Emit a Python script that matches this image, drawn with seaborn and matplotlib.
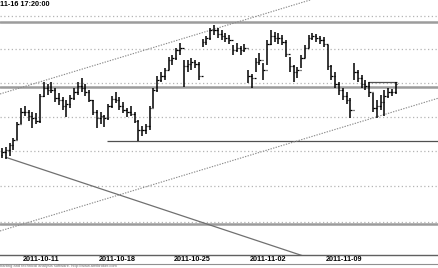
import matplotlib
matplotlib.use("Agg")
import matplotlib.pyplot as plt
import matplotlib.transforms as mtransforms
from matplotlib.lines import Line2D
import numpy as np
import pandas as pd
import seaborn as sns

# ---- data (6-hour bars, index 0..104) ----
high = [1.3612, 1.3618, 1.3642, 1.3672, 1.3768, 1.3852, 1.3864, 1.3840, 1.3828, 1.3822,
        1.3936, 1.4008, 1.3996, 1.4008, 1.3972, 1.3942, 1.3918, 1.3900, 1.3930, 1.3972,
        1.4008, 1.4032, 1.3996, 1.3960, 1.3900, 1.3840, 1.3828, 1.3810, 1.3876, 1.3924,
        1.3948, 1.3918, 1.3888, 1.3852, 1.3864, 1.3828, 1.3780, 1.3744, 1.3756, 1.3864,
        1.3972, 1.4044, 1.4068, 1.4092, 1.4158, 1.4170, 1.4212, 1.4242, 1.4140, 1.4140,
        1.4152, 1.4140, 1.4128, 1.4266, 1.4284, 1.4332, 1.4350, 1.4332, 1.4320, 1.4302,
        1.4290, 1.4230, 1.4242, 1.4224, 1.4236, 1.4080, 1.4056, 1.4152, 1.4182, 1.4122,
        1.4260, 1.4320, 1.4308, 1.4302, 1.4290, 1.4260, 1.4158, 1.4110, 1.4098, 1.4170,
        1.4230, 1.4290, 1.4302, 1.4296, 1.4284, 1.4278, 1.4230, 1.4110, 1.4068, 1.4008,
        1.3972, 1.3948, 1.3912, 1.4122, 1.4080, 1.4050, 1.4020, 1.4008, 1.3942, 1.3900,
        1.3930, 1.3960, 1.3972, 1.3966, 1.4008]
low = [1.3552, 1.3546, 1.3564, 1.3600, 1.3660, 1.3756, 1.3804, 1.3774, 1.3732, 1.3756,
       1.3762, 1.3918, 1.3930, 1.3942, 1.3888, 1.3870, 1.3840, 1.3798, 1.3852, 1.3900,
       1.3930, 1.3948, 1.3924, 1.3888, 1.3810, 1.3732, 1.3756, 1.3738, 1.3780, 1.3852,
       1.3882, 1.3840, 1.3822, 1.3798, 1.3804, 1.3762, 1.3654, 1.3684, 1.3696, 1.3720,
       1.3852, 1.3948, 1.4008, 1.4020, 1.4080, 1.4110, 1.4140, 1.4170, 1.3978, 1.4068,
       1.4080, 1.4092, 1.4020, 1.4218, 1.4230, 1.4260, 1.4290, 1.4272, 1.4260, 1.4248,
       1.4236, 1.4170, 1.4188, 1.4170, 1.4188, 1.4002, 1.3972, 1.4068, 1.4110, 1.4020,
       1.4110, 1.4230, 1.4248, 1.4236, 1.4230, 1.4158, 1.4068, 1.4008, 1.4032, 1.4092,
       1.4152, 1.4212, 1.4260, 1.4248, 1.4236, 1.4218, 1.4080, 1.4020, 1.3972, 1.3930,
       1.3900, 1.3876, 1.3792, 1.4020, 1.4008, 1.3972, 1.3960, 1.3918, 1.3828, 1.3792,
       1.3840, 1.3804, 1.3912, 1.3924, 1.3936]
close = [1.3588, 1.3600, 1.3630, 1.3660, 1.3756, 1.3828, 1.3828, 1.3804, 1.3792, 1.3774,
         1.3924, 1.3972, 1.3960, 1.3960, 1.3912, 1.3900, 1.3864, 1.3876, 1.3912, 1.3948,
         1.3984, 1.3972, 1.3948, 1.3900, 1.3828, 1.3792, 1.3804, 1.3792, 1.3864, 1.3906,
         1.3900, 1.3864, 1.3840, 1.3828, 1.3816, 1.3774, 1.3720, 1.3720, 1.3744, 1.3852,
         1.3960, 1.4020, 1.4044, 1.4080, 1.4140, 1.4152, 1.4200, 1.4212, 1.4104, 1.4116,
         1.4128, 1.4116, 1.4044, 1.4248, 1.4272, 1.4320, 1.4320, 1.4296, 1.4284, 1.4272,
         1.4260, 1.4200, 1.4212, 1.4200, 1.4212, 1.4044, 1.4032, 1.4128, 1.4140, 1.4080,
         1.4236, 1.4284, 1.4272, 1.4272, 1.4248, 1.4176, 1.4104, 1.4068, 1.4080, 1.4152,
         1.4212, 1.4272, 1.4284, 1.4272, 1.4260, 1.4236, 1.4104, 1.4044, 1.3996, 1.3960,
         1.3924, 1.3900, 1.3840, 1.4068, 1.4032, 1.3996, 1.3984, 1.3948, 1.3852, 1.3864,
         1.3888, 1.3924, 1.3948, 1.3948, 1.3996]
first_open = 1.3570

date_labels = ["2011-10-11", "2011-10-18", "2011-10-25", "2011-11-02", "2011-11-09"]
date_bars = [5, 25, 45, 65, 85]

grid_levels = [1.4404, 1.4206, 1.4004, 1.3799, 1.3592, 1.3381, 1.3168]
hlines_full = [1.4368, 1.3978, 1.3156]
support_level = 1.3654
support_start = 27.7
resist_level = 1.4008
resist_span = [96.7, 104.3]

upper_channel = [(0, 1.3940), (100, 1.4628)]
lower_channel = [(0, 1.3118), (100, 1.3806)]
down_line = [(1, 1.3556), (95, 1.2848)]

# visible portions of the header / footer texts (the chart is cropped at the left)
timestamp = "11-16 17:20:00"
footer = "harting and technical analysis software. http://www.amibroker.com"

# ---- figure ----
sns.set_theme(style="white")
plt.rcParams['font.family'] = ['Liberation Sans', 'DejaVu Sans']

W, H = 439, 268
fig = plt.figure(figsize=(W / 100, H / 100), dpi=100)
fig.patch.set_facecolor("white")
ax = fig.add_axes([0, 13 / H, 1, 255 / H])
ax.set_facecolor("white")

n = len(high)
idx = np.arange(n)
opens = [first_open] + close[:-1]

# grid dotted
for g in grid_levels:
    ax.axhline(g, color="#b4b4b4", lw=0.9, ls=(0, (1, 2)), zorder=1)
# full-width gray solid lines
for h in hlines_full:
    ax.axhline(h, color="#9c9c9c", lw=1.8, zorder=1.5)

# support / resistance
ax.hlines(support_level, support_start, 200, color="#505050", lw=0.9, zorder=2)
ax.hlines(resist_level, resist_span[0], resist_span[1], color="#505050", lw=0.9, zorder=2)

# channel lines (dotted)
for pts in (upper_channel, lower_channel):
    ax.axline(pts[0], pts[1], color="#8a8a8a", lw=0.8, ls=(0, (1.2, 1.2)), zorder=2)

# descending solid line via seaborn
df_down = pd.DataFrame({"bar": [p[0] for p in down_line], "price": [p[1] for p in down_line]})
sns.lineplot(data=df_down, x="bar", y="price", ax=ax, color="#707070", lw=0.9, zorder=2)

# OHLC bars
ax.vlines(idx, low, high, color="black", lw=1.1, zorder=3)
ax.hlines(opens, idx - 0.4, idx, color="black", lw=0.9, zorder=3)
ax.hlines(close, idx, idx + 0.4, color="black", lw=0.9, zorder=3)

# axes limits (bar index / price)
ax.set_xlim(-0.555, 115.43)
ax.set_ylim(1.297, 1.45)
ax.set_xlabel("")
ax.set_ylabel("")
ax.set_yticks([])

for s in ("top", "left", "right"):
    ax.spines[s].set_visible(False)
ax.spines["bottom"].set_color("#606060")
ax.spines["bottom"].set_linewidth(1.0)

ax.set_xticks(date_bars)
ax.set_xticklabels(date_labels, fontsize=5.2, fontweight="bold", color="black")
ax.tick_params(axis="x", direction="out", length=3.5, width=0.6, color="#404040", pad=-2.8)
off = mtransforms.ScaledTranslation(1.2 / 72, 0, fig.dpi_scale_trans)
for lab in ax.get_xticklabels():
    lab.set_ha("left")
    lab.set_transform(lab.get_transform() + off)

# line below date labels
fig.add_artist(Line2D([0, 1], [1 - 263.5 / H, 1 - 263.5 / H], color="#909090", lw=0.8))

# timestamp at top left
fig.text(0.5 / W, 1 - 5 / H, timestamp, ha="left", va="center", fontsize=5.2,
         fontweight="bold", color="black")
# footer
fig.text(0.5 / W, 1 - 266 / H, footer, ha="left", va="center", fontsize=2.9, color="#707070")

fig.savefig("out.png", dpi=100, facecolor="white")
